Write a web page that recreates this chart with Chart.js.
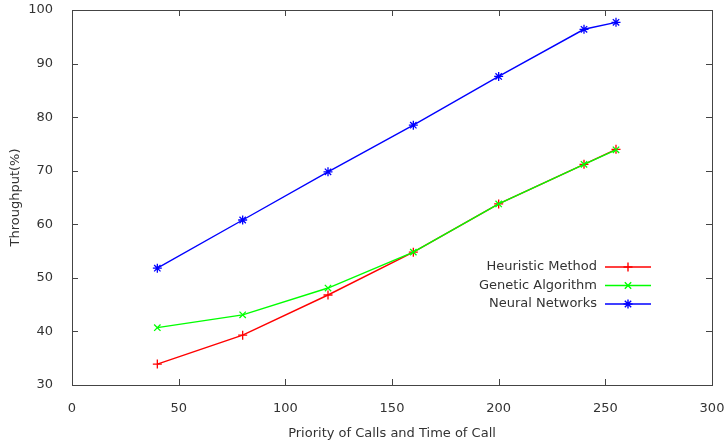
<!DOCTYPE html>
<html>
<head>
<meta charset="utf-8">
<script src="https://cdn.jsdelivr.net/npm/chart.js@4/dist/chart.umd.min.js"></script>
<style>
  html, body { margin: 0; padding: 0; background: #fff; }
  #wrap { width: 727px; height: 445px; }
</style>
</head>
<body>
<div id="wrap"><canvas id="c" width="727" height="445"></canvas></div>
<script>
const xValues = [40, 80, 120, 160, 200, 240, 255];
const heuristic = [33.9, 39.3, 46.8, 54.8, 63.8, 71.2, 74.0];
const genetic = [40.7, 43.1, 48.1, 54.8, 63.8, 71.2, 73.9];
const neural = [51.8, 60.8, 69.8, 78.5, 87.6, 96.4, 97.7];
const xTicks = [0, 50, 100, 150, 200, 250, 300];
const yTicks = [30, 40, 50, 60, 70, 80, 90, 100];

const FONT = "'DejaVu Sans', sans-serif";
const TEXT = "#333";

function pairs(ys) {
  return xValues.map((x, i) => ({ x, y: ys[i] }));
}

// order: later series in gnuplot are drawn on top
function series(label, data, color, style, order) {
  return {
    label, data: pairs(data), order,
    borderColor: color, backgroundColor: color,
    borderWidth: 1.4, pointStyle: style, pointRadius: 4.5,
    pointBorderWidth: 1.3, pointHoverRadius: 4.5, tension: 0,
  };
}

// gnuplot-ish frame with inward ticks on all four sides
const framePlugin = {
  id: "frame",
  afterDraw(chart) {
    const { ctx, chartArea: a, scales } = chart;
    ctx.save();
    ctx.strokeStyle = "#444";
    ctx.lineWidth = 1;
    ctx.strokeRect(Math.round(a.left) + 0.5, Math.round(a.top) + 0.5,
      Math.round(a.right - a.left), Math.round(a.bottom - a.top));
    ctx.beginPath();
    xTicks.forEach((v) => {
      const px = Math.round(scales.x.getPixelForValue(v)) + 0.5;
      ctx.moveTo(px, a.bottom); ctx.lineTo(px, a.bottom - 6);
      ctx.moveTo(px, a.top); ctx.lineTo(px, a.top + 6);
    });
    yTicks.forEach((v) => {
      const py = Math.round(scales.y.getPixelForValue(v)) + 0.5;
      ctx.moveTo(a.left, py); ctx.lineTo(a.left + 6, py);
      ctx.moveTo(a.right, py); ctx.lineTo(a.right - 6, py);
    });
    ctx.stroke();
    ctx.restore();
  },
};

// legend inside the plot, text right-aligned with a sample line after it
const keyPlugin = {
  id: "key",
  afterDatasetsDraw(chart) {
    const { ctx } = chart;
    const textRight = 597, lineL = 605, lineR = 651, top = 267, step = 18.5;
    ctx.save();
    ctx.font = "13px " + FONT;
    ctx.textAlign = "right";
    ctx.textBaseline = "middle";
    chart.data.datasets.forEach((ds, i) => {
      const y = top + i * step;
      ctx.fillStyle = TEXT;
      ctx.fillText(ds.label, textRight, y);
      ctx.strokeStyle = ds.borderColor;
      ctx.lineWidth = 1.4;
      ctx.beginPath();
      ctx.moveTo(lineL, y); ctx.lineTo(lineR, y);
      ctx.stroke();
      Chart.helpers.drawPoint(ctx, {
        pointStyle: ds.pointStyle, radius: 4.5, rotation: 0, borderWidth: 1.3,
      }, (lineL + lineR) / 2, y);
    });
    ctx.restore();
  },
};

new Chart(document.getElementById("c"), {
  type: "line",
  data: {
    datasets: [
      series("Heuristic Method", heuristic, "#ff0000", "cross", 3),
      series("Genetic Algorithm", genetic, "#00ff00", "crossRot", 2),
      series("Neural Networks", neural, "#0000ff", "star", 1),
    ],
  },
  plugins: [framePlugin, keyPlugin],
  options: {
    responsive: false,
    animation: false,
    layout: { padding: { top: 10, right: 15, left: 4, bottom: 0 } },
    plugins: { legend: { display: false }, tooltip: { enabled: false } },
    scales: {
      x: {
        type: "linear", min: 0, max: 300,
        afterBuildTicks: (s) => { s.ticks = xTicks.map((v) => ({ value: v })); },
        afterFit: (s) => { s.height = 60; s.paddingLeft = 0; s.paddingRight = 0; },
        grid: { display: false }, border: { display: false },
        ticks: { color: TEXT, font: { family: FONT, size: 13 }, padding: 8 },
        title: { display: true, text: "Priority of Calls and Time of Call", color: TEXT,
          font: { family: FONT, size: 13 }, padding: { top: 4 } },
      },
      y: {
        min: 30, max: 100,
        afterBuildTicks: (s) => { s.ticks = yTicks.map((v) => ({ value: v })); },
        afterFit: (s) => { s.width = 68; s.paddingTop = 0; s.paddingBottom = 0; },
        grid: { display: false }, border: { display: false },
        ticks: { color: TEXT, font: { family: FONT, size: 13 }, padding: 11 },
        title: { display: true, text: "Throughput(%)", color: TEXT,
          font: { family: FONT, size: 13 }, padding: { bottom: 2 } },
      },
    },
  },
});
</script>
</body>
</html>
